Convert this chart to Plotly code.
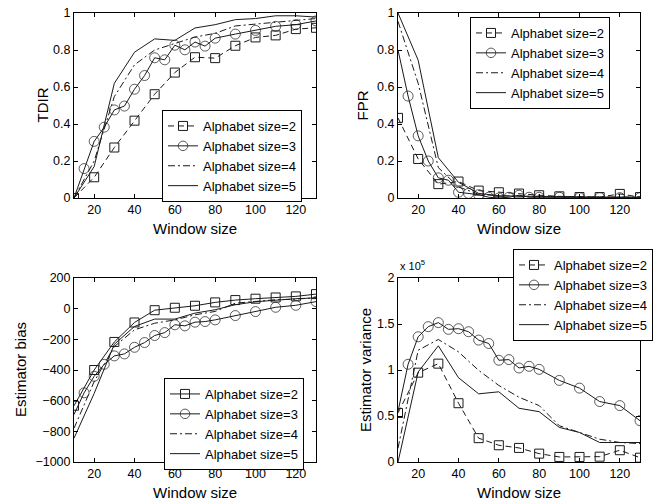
import plotly.graph_objects as go

# ---------------- data ----------------
x_main = [10, 20, 30, 40, 50, 60, 70, 80, 90, 100, 110, 120, 130]
x_fine = [10, 15, 20, 25, 30, 35, 40, 45, 50, 55, 60, 65, 70, 75, 80, 90, 100, 110, 120, 130]

series_names = ["Alphabet size=2", "Alphabet size=3", "Alphabet size=4", "Alphabet size=5"]

tdir_s2 = [0, 0.112, 0.273, 0.418, 0.561, 0.678, 0.761, 0.756, 0.823, 0.868, 0.879, 0.913, 0.920]
tdir_s3 = [0, 0.159, 0.306, 0.383, 0.476, 0.497, 0.588, 0.662, 0.758, 0.747, 0.826, 0.801,
           0.843, 0.821, 0.864, 0.886, 0.906, 0.928, 0.937, 0.957]
tdir_s4 = [0, 0.20, 0.548, 0.72, 0.80, 0.837, 0.87, 0.89, 0.93, 0.94, 0.95, 0.96, 0.97]
tdir_s5 = [0, 0.17, 0.62, 0.788, 0.86, 0.852, 0.919, 0.937, 0.964, 0.97, 0.985, 0.985, 0.978]

fpr_s2 = [0.433, 0.211, 0.075, 0.089, 0.040, 0.031, 0.024, 0.015, 0.009, 0.005, 0.005, 0.022, 0.005]
fpr_s3 = [0.80, 0.551, 0.336, 0.20, 0.109, 0.096, 0.031, 0.025, 0.018, 0.004, 0.0, 0.004,
          0.015, 0.004, 0.004, 0.004, 0.002, 0.002, 0.002, 0.002]
fpr_s4 = [0.955, 0.62, 0.164, 0.06, 0.02, 0.012, 0.01, 0.008, 0.006, 0.005, 0.005, 0.005, 0.005]
fpr_s5 = [1.0, 0.745, 0.218, 0.085, 0.025, 0.012, 0.01, 0.008, 0.006, 0.005, 0.005, 0.005, 0.005]

bias_s2 = [-633, -400, -217, -90, -10, 6, 19, 41, 56, 65, 73, 80, 95]
bias_s3 = [-690, -549, -441, -363, -308, -295, -252, -221, -175, -156, -105, -112,
           -88, -84, -73, -45, -19, 9, 22, 46]
bias_s4 = [-780, -476, -247, -138, -95, -73, -40, -18, 36, 48, 58, 62, 72]
bias_s5 = [-845, -553, -232, -116, -68, -68, -29, -7, 26, 45, 55, 65, 70]

# estimator variance, in units of 1e5
var_s2 = [0.533, 0.971, 1.069, 0.639, 0.259, 0.182, 0.153, 0.091, 0.055, 0.055, 0.058, 0.128, 0.047]
var_s3 = [0.55, 1.062, 1.361, 1.471, 1.515, 1.442, 1.449, 1.416, 1.325, 1.288, 1.106, 1.113,
          1.022, 1.04, 1.007, 0.887, 0.803, 0.657, 0.613, 0.449]
var_s4 = [0.15, 1.215, 1.332, 1.197, 0.996, 0.832, 0.704, 0.613, 0.394, 0.321, 0.248, 0.212, 0.2]
var_s5 = [0, 0.978, 1.263, 0.916, 0.741, 0.763, 0.584, 0.547, 0.376, 0.321, 0.212, 0.212, 0.212]

x_title = "Window size"
y_titles = ["TDIR", "FPR", "Estimator bias", "Estimator variance"]

# ---------------- styling ----------------
W, H = 658, 502
FONT = "Liberation Sans, Arial, Helvetica, sans-serif"
LC = "#1a1a1a"
DASH = "6px,4px"
DASHDOT = "7px,3px,2px,3px"


def px_x(a, b):
    return [a / W, b / W]


def px_y(top, bottom):
    return [(H - bottom) / H, (H - top) / H]


def fx(px):
    return px / W


def fy(py):
    return (H - py) / H


fig = go.Figure()

panels = [
    ("", [tdir_s2, tdir_s3, tdir_s4, tdir_s5], DASH, "legend"),
    ("2", [fpr_s2, fpr_s3, fpr_s4, fpr_s5], DASH, "legend2"),
    ("3", [bias_s2, bias_s3, bias_s4, bias_s5], "solid", "legend3"),
    ("4", [var_s2, var_s3, var_s4, var_s5], DASH, "legend4"),
]

for suf, ys, dash2, leg in panels:
    xa, ya = "x" + suf, "y" + suf
    common = dict(xaxis=xa, yaxis=ya, legend=leg, showlegend=True)
    fig.add_trace(go.Scatter(x=x_main, y=ys[0], name=series_names[0], mode="lines+markers",
                             line=dict(color=LC, width=1, dash=dash2),
                             marker=dict(symbol="square-open", size=9, color=LC, line=dict(width=1)),
                             **common))
    sizes3 = [0] + [10] * (len(x_fine) - 1)
    fig.add_trace(go.Scatter(x=x_fine, y=ys[1], name=series_names[1], mode="lines+markers",
                             line=dict(color=LC, width=1, dash="solid"),
                             marker=dict(symbol="circle-open", size=sizes3, color=LC, line=dict(width=1)),
                             **common))
    fig.add_trace(go.Scatter(x=x_main, y=ys[2], name=series_names[2], mode="lines",
                             line=dict(color=LC, width=1, dash=DASHDOT), **common))
    fig.add_trace(go.Scatter(x=x_main, y=ys[3], name=series_names[3], mode="lines",
                             line=dict(color=LC, width=1, dash="solid"), **common))

axis_common = dict(showline=True, linecolor="black", linewidth=1, mirror="ticks",
                   ticks="inside", ticklen=4, tickcolor="black", showgrid=False, zeroline=False,
                   tickfont=dict(family=FONT, size=12.5, color="black"))

xcommon = dict(axis_common, range=[10, 130], tick0=20, dtick=20)

# pixel boxes of the four panels: (left, right, top, bottom)
boxes = [(74, 316, 13, 198), (398, 640, 13, 198), (74, 316, 278, 462), (398, 640, 278, 462)]

layout_axes = {
    "xaxis": dict(xcommon, domain=px_x(74, 316), anchor="y"),
    "yaxis": dict(axis_common, domain=px_y(13, 198), anchor="x", range=[0, 1], dtick=0.2),
    "xaxis2": dict(xcommon, domain=px_x(398, 640), anchor="y2"),
    "yaxis2": dict(axis_common, domain=px_y(13, 198), anchor="x2", range=[0, 1], dtick=0.2),
    "xaxis3": dict(xcommon, domain=px_x(74, 316), anchor="y3"),
    "yaxis3": dict(axis_common, domain=px_y(278, 462), anchor="x3", range=[-1000, 200], dtick=200),
    "xaxis4": dict(xcommon, domain=px_x(398, 640), anchor="y4"),
    "yaxis4": dict(axis_common, domain=px_y(278, 462), anchor="x4", range=[0, 2], dtick=0.5),
}

title_font = dict(family=FONT, size=15, color="black")
annotations = []
ytitle_x = [42, 362, 20, 365]
for (l, r, t, b), yt, ytx in zip(boxes, y_titles, ytitle_x):
    annotations.append(dict(text=x_title, xref="paper", yref="paper", x=fx((l + r) / 2), y=fy(b + 30),
                            xanchor="center", yanchor="middle", showarrow=False, font=title_font))
    annotations.append(dict(text=yt, xref="paper", yref="paper", x=fx(ytx), y=fy((t + b) / 2),
                            xanchor="center", yanchor="middle", textangle=-90, showarrow=False,
                            font=title_font))
annotations.append(dict(text="x 10<sup>5</sup>", xref="paper", yref="paper",
                        x=fx(398), y=fy(274), xanchor="left", yanchor="bottom",
                        showarrow=False, font=dict(family=FONT, size=11, color="black")))

leg_common = dict(bgcolor="white", bordercolor="black", borderwidth=1,
                  font=dict(family=FONT, size=13, color="black"),
                  xanchor="left", yanchor="top", traceorder="normal")

fig.update_layout(
    width=W, height=H,
    margin=dict(l=0, r=0, t=0, b=0, autoexpand=False),
    paper_bgcolor="white", plot_bgcolor="white",
    font=dict(family=FONT, size=13, color="black"),
    legend=dict(leg_common, x=fx(162), y=fy(110)),
    legend2=dict(leg_common, x=fx(470), y=fy(17)),
    legend3=dict(leg_common, x=fx(164), y=fy(378)),
    legend4=dict(leg_common, x=fx(513), y=fy(249)),
    annotations=annotations,
    **layout_axes,
)

fig.write_html("out.html")
